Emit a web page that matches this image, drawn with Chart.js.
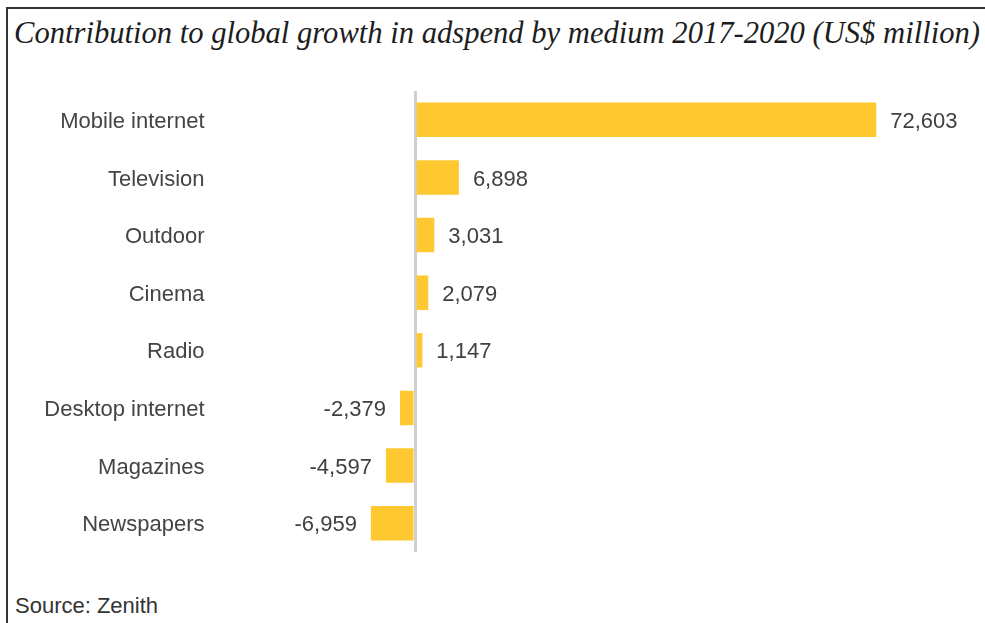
<!DOCTYPE html>
<html>
<head>
	<style type="text/css">
	body{
		margin: 0;
		background: #fff;
		font-family: "Liberation Sans", Arial;
	}
	#frame{
		position: absolute; left: 6px; top: 7px; width: 985px; height: 630px;
		border-left: 2px solid #333; border-top: 2px solid #333;
	}
	#title{
		position: absolute; left: 14px; top: 16px; white-space: nowrap;
		font-family: "Liberation Serif", serif; font-style: italic; font-size: 30.6px; color: #1d1d1d;
	}
	#source{
		position: absolute; left: 15px; top: 593px;
		font-size: 22px; color: #333;
	}
	#wrap{ position: absolute; left: 0; top: 0; width: 985px; height: 623px; }
	</style>
    <title>Adspend growth</title>
    <script type="text/javascript" src="https://cdn.jsdelivr.net/npm/chart.js@4/dist/chart.umd.min.js"></script>
</head>
<body>
<div id="frame"></div>
<div id="title">Contribution to global growth in adspend by medium 2017-2020 (US$ million)</div>
<div id="source">Source: Zenith</div>
<div id="wrap"><canvas id="chart"></canvas></div>
<script type="text/javascript">
    var media = ['Mobile internet', 'Television', 'Outdoor', 'Cinema', 'Radio', 'Desktop internet', 'Magazines', 'Newspapers'];
    var growth = [72603, 6898, 3031, 2079, 1147, -2379, -4597, -6959];

    // value labels next to each bar end
    var valueLabels = {
        id: 'valueLabels',
        afterDatasetsDraw: function (chart) {
            var ctx = chart.ctx;
            var meta = chart.getDatasetMeta(0);
            ctx.save();
            ctx.font = '22px "Liberation Sans", Arial';
            ctx.fillStyle = '#404040';
            ctx.textBaseline = 'middle';
            meta.data.forEach(function (bar, i) {
                var v = growth[i];
                var txt = v.toLocaleString('en-US');
                if (v >= 0) {
                    ctx.textAlign = 'left';
                    ctx.fillText(txt, bar.x + 14, bar.y + 2);
                } else {
                    ctx.textAlign = 'right';
                    ctx.fillText(txt, bar.x - 14, bar.y + 2);
                }
            });
            ctx.restore();
        }
    };

    var chart = new Chart(document.getElementById('chart'), {
        type: 'bar',
        data: {
            labels: media,
            datasets: [{
                data: growth,
                backgroundColor: '#fec830',
                borderWidth: 0,
                categoryPercentage: 1,
                barPercentage: 0.6
            }]
        },
        options: {
            indexAxis: 'y',
            responsive: true,
            maintainAspectRatio: false,
            animation: false,
            layout: { padding: { top: 91, bottom: 71, left: 0, right: 30 } },
            plugins: { legend: { display: false }, tooltip: { enabled: false } },
            scales: {
                x: {
                    min: -30000,
                    max: 85000,
                    ticks: { display: false, stepSize: 5000 },
                    border: { display: false },
                    grid: {
                        drawTicks: false,
                        lineWidth: 3,
                        color: function (c) { return c.tick && c.tick.value === 0 ? '#cfcfcf' : 'rgba(0,0,0,0)'; }
                    },
                    afterFit: function (s) { s.height = 0; }
                },
                y: {
                    ticks: {
                        color: '#444',
                        padding: 20,
                        labelOffset: 2,
                        font: { family: '"Liberation Sans", Arial', size: 22 }
                    },
                    grid: { display: false, drawTicks: false },
                    border: { display: false },
                    afterFit: function (s) { s.width = 224.5; }
                }
            }
        },
        plugins: [valueLabels]
    });
</script>
</body>
</html>
